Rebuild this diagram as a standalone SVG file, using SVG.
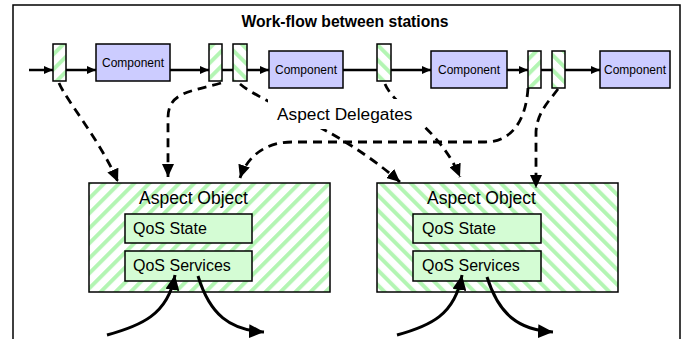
<svg xmlns="http://www.w3.org/2000/svg" width="682" height="339" viewBox="0 0 682 339">
<defs>
<pattern id="stripeA" patternUnits="userSpaceOnUse" width="10.6" height="10.6" patternTransform="rotate(45)">
<rect width="10.6" height="10.6" fill="#ffffff"/>
<rect width="4" height="10.6" fill="#b3f5b3"/>
</pattern>
<pattern id="stripeB" patternUnits="userSpaceOnUse" width="10.6" height="10.6" patternTransform="rotate(-45)">
<rect width="10.6" height="10.6" fill="#ffffff"/>
<rect width="4" height="10.6" fill="#b3f5b3"/>
</pattern>
<marker id="ah" markerUnits="userSpaceOnUse" markerWidth="9" markerHeight="8" refX="9" refY="4" orient="auto">
<path d="M0,0 L9,4 L0,8 z" fill="#000"/>
</marker>
<marker id="ahd" markerUnits="userSpaceOnUse" markerWidth="13" markerHeight="12" refX="13" refY="6" orient="auto">
<path d="M0,0 L13,6 L0,12 z" fill="#000"/>
</marker>
<marker id="ahc" markerUnits="userSpaceOnUse" markerWidth="15" markerHeight="14" refX="15" refY="7" orient="auto">
<path d="M0,0 L15,7 L0,14 z" fill="#000"/>
</marker>
</defs>
<style>
text{font-family:"Liberation Sans",Arial,sans-serif;fill:#000}
.title{font-size:15.7px;font-weight:bold}
.comp rect{fill:#ccccff;stroke:#000;stroke-width:1.5}
.comp text{font-size:12px}
.delA rect{fill:url(#stripeA);stroke:#000;stroke-width:1.5}
.delB rect{fill:url(#stripeB);stroke:#000;stroke-width:1.5}
.ao>rect{stroke:#000;stroke-width:1.5}
.ao text.h{font-size:17.5px}
.qos rect{fill:#d4fcd4;stroke:#000;stroke-width:1.5}
.qos text{font-size:16px}
.flow{stroke:#000;stroke-width:2.5;fill:none}
.dash{stroke:#000;stroke-width:2.8;fill:none;stroke-dasharray:9,6}
.curve{stroke:#000;stroke-width:3;fill:none}
</style>
<rect x="13" y="5" width="667" height="340" fill="#fff" stroke="#000" stroke-width="1.5"/>
<text class="title" x="345" y="27" text-anchor="middle">Work-flow between stations</text>

<g id="delegate1" class="delA"><rect x="53" y="44" width="13" height="37"/></g>
<g id="component1" class="comp"><rect x="96" y="44" width="74" height="37"/><text x="133" y="67" text-anchor="middle">Component</text></g>
<g id="delegate2" class="delA"><rect x="209" y="44" width="13" height="37"/></g>
<g id="delegate3" class="delB"><rect x="233" y="44" width="14" height="37"/></g>
<g id="component2" class="comp"><rect x="269" y="51" width="74" height="37"/><text x="306" y="73.5" text-anchor="middle">Component</text></g>
<g id="delegate4" class="delB"><rect x="377" y="44" width="14" height="37"/></g>
<g id="component3" class="comp"><rect x="431" y="51" width="76" height="37"/><text x="469" y="73.5" text-anchor="middle">Component</text></g>
<g id="delegate5" class="delA"><rect x="528" y="51" width="13" height="37"/></g>
<g id="delegate6" class="delB"><rect x="552" y="51" width="13" height="37"/></g>
<g id="component4" class="comp"><rect x="600" y="51" width="70" height="37"/><text x="635" y="73.5" text-anchor="middle">Component</text></g>

<g id="aspect-object1" class="ao">
<rect x="89" y="183" width="241" height="109" fill="url(#stripeA)"/>
<text class="h" x="139" y="204">Aspect Object</text>
<g class="qos"><rect x="125" y="214" width="127" height="29"/><text x="133" y="234">QoS State</text></g>
<g class="qos"><rect x="125" y="251" width="127" height="30"/><text x="133" y="271">QoS Services</text></g>
</g>
<g id="aspect-object2" class="ao">
<rect x="377" y="183" width="241" height="109" fill="url(#stripeB)"/>
<text class="h" x="427" y="204">Aspect Object</text>
<g class="qos"><rect x="413" y="214" width="128" height="29"/><text x="422" y="234">QoS State</text></g>
<g class="qos"><rect x="413" y="251" width="128" height="30"/><text x="422" y="271">QoS Services</text></g>
</g>

<g id="connectors">
<line class="flow" x1="29" y1="70" x2="53" y2="70" marker-end="url(#ah)"/>
<line class="flow" x1="66" y1="70" x2="96" y2="70" marker-end="url(#ah)"/>
<line class="flow" x1="170" y1="70" x2="209" y2="70" marker-end="url(#ah)"/>
<line class="flow" x1="222" y1="70" x2="233" y2="70"/>
<line class="flow" x1="247" y1="70" x2="269" y2="70" marker-end="url(#ah)"/>
<line class="flow" x1="343" y1="70" x2="377" y2="70"/>
<line class="flow" x1="391" y1="70" x2="431" y2="70" marker-end="url(#ah)"/>
<line class="flow" x1="507" y1="70" x2="528" y2="70" marker-end="url(#ah)"/>
<line class="flow" x1="541" y1="70" x2="552" y2="70"/>
<line class="flow" x1="565" y1="70" x2="600" y2="70" marker-end="url(#ah)"/>

<path class="dash" d="M59,83 C66,100 100,140 118,182" marker-end="url(#ahd)"/>
<path class="dash" d="M221,83 C190,92 168,92 168,118 L168,177" marker-end="url(#ahd)"/>
<path class="dash" d="M240,84 C265,105 335,125 400,182" marker-end="url(#ahd)"/>
<path class="dash" d="M385,84 C395,108 440,128 460,177" marker-end="url(#ahd)"/>
<path class="dash" d="M528,88 C526,120 512,142 485,142 L292,142 C262,142 246,160 240,178" marker-end="url(#ahd)"/>
<path class="dash" d="M558,89 C550,100 537,112 536,132 L536,188" marker-end="url(#ahd)"/>

<path class="curve" d="M107,335 C140,326 168,315 175,275" marker-end="url(#ahc)"/>
<path class="curve" d="M198,276 C210,315 230,330 264,332" marker-end="url(#ahc)"/>
<path class="curve" d="M397,335 C430,326 455,315 462,275" marker-end="url(#ahc)"/>
<path class="curve" d="M487,277 C499,315 519,330 553,332" marker-end="url(#ahc)"/>
</g>

<g id="label-delegates">
<rect x="268" y="99" width="155" height="30" fill="#fff"/>
<text x="277" y="120" style="font-size:17.3px">Aspect Delegates</text>
</g>
</svg>
